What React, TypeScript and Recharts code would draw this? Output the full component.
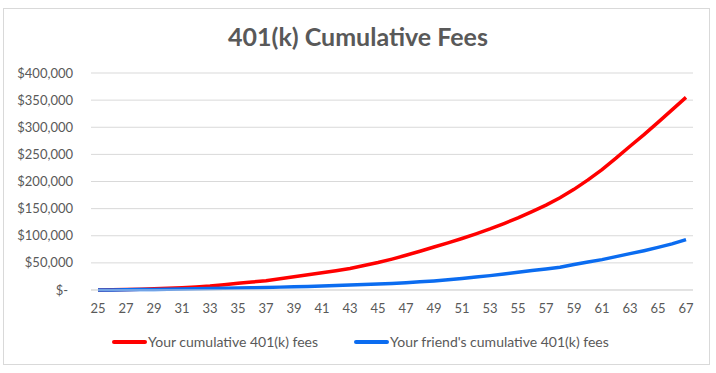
import { LineChart, Line, XAxis, YAxis, CartesianGrid } from "recharts";

const ages = [
  25, 26, 27, 28, 29, 30, 31, 32, 33, 34, 35, 36, 37, 38, 39, 40, 41, 42, 43, 44, 45, 46,
  47, 48, 49, 50, 51, 52, 53, 54, 55, 56, 57, 58, 59, 60, 61, 62, 63, 64, 65, 66, 67,
];

const yourFees = [
  0, 500, 1000, 1600, 2300, 3200, 4200, 5700, 7400, 9700, 12300, 14700, 17200, 20800,
  24600, 28000, 31800, 35600, 39800, 45000, 50600, 57000, 64000, 71500, 79300, 87000,
  95000, 103500, 112500, 122500, 133000, 144500, 156500, 170000, 185500, 203000, 222000,
  243000, 265000, 286500, 309000, 332000, 355000,
];

const friendFees = [
  0, 200, 400, 700, 1000, 1400, 1800, 2200, 2700, 3200, 3700, 4200, 4700, 5300, 5900,
  6600, 7300, 8100, 9000, 10000, 11000, 12200, 13500, 15000, 16700, 18800, 21300, 23800,
  26500, 29500, 32700, 35800, 38900, 42000, 47000, 51500, 56000, 61500, 67000, 72500,
  78500, 85000, 93000,
];

const yTicks = [0, 50000, 100000, 150000, 200000, 250000, 300000, 350000, 400000];

const data = ages.map((age, i) => ({
  age,
  yours: yourFees[i],
  friend: friendFees[i],
}));

const FONT = "Lato, 'Noto Sans', sans-serif";
const TEXT = "#595959";
const RED = "#ff0000";
const BLUE = "#0b6cf0";

const YTick = (props: any) => {
  const { x, y, payload } = props;
  const v = payload.value;
  const label = v === 0 ? "$-" : "$" + v.toLocaleString("en-US");
  return (
    <text
      x={v === 0 ? x - 5 : x}
      y={y}
      dy="0.35em"
      textAnchor="end"
      fill={TEXT}
      fontSize={13}
      fontFamily={FONT}
    >
      {label}
    </text>
  );
};

const LegendItem = ({ color, label }: { color: string; label: string }) => (
  <div style={{ display: "flex", alignItems: "center" }}>
    <div style={{ width: 35, height: 4, background: color, borderRadius: 2 }} />
    <span style={{ marginLeft: 1 }}>{label}</span>
  </div>
);

export default function App() {
  return (
    <div
      style={{
        position: "absolute",
        left: 0,
        top: 0,
        width: 716,
        height: 373,
        background: "#fff",
        fontFamily: FONT,
      }}
    >
      <div
        style={{
          position: "absolute",
          left: 3,
          top: 8,
          width: 707,
          height: 357,
          border: "1px solid #d9d9d9",
          boxSizing: "border-box",
        }}
      />
      <div
        style={{
          position: "absolute",
          left: 0,
          top: 21,
          width: 716,
          textAlign: "center",
          fontSize: 25,
          fontWeight: 700,
          color: TEXT,
        }}
      >
        401(k) Cumulative Fees
      </div>
      <div style={{ position: "absolute", left: 0, top: 0 }}>
        <LineChart
          width={716}
          height={373}
          data={data}
          margin={{ top: 73, right: 23, left: 0, bottom: 53 }}
        >
          <CartesianGrid vertical={false} stroke="#d9d9d9" strokeWidth={1} />
          <XAxis
            dataKey="age"
            interval={1}
            padding={{ left: 7, right: 7 }}
            tickLine={false}
            axisLine={{ stroke: "#d9d9d9" }}
            tickSize={0}
            tickMargin={14}
            height={30}
            tick={{ fill: TEXT, fontSize: 13, fontFamily: FONT }}
          />
          <YAxis
            domain={[0, 400000]}
            ticks={yTicks}
            width={91}
            axisLine={false}
            tickLine={false}
            tickSize={0}
            tickMargin={18}
            tick={<YTick />}
          />
          <Line
            type="linear"
            dataKey="yours"
            stroke={RED}
            strokeWidth={3.5}
            dot={false}
            isAnimationActive={false}
          />
          <Line
            type="linear"
            dataKey="friend"
            stroke={BLUE}
            strokeWidth={3.5}
            dot={false}
            isAnimationActive={false}
          />
        </LineChart>
      </div>
      <div
        style={{
          position: "absolute",
          left: 112,
          top: 333,
          fontSize: 14,
          color: TEXT,
        }}
      >
        <div style={{ position: "absolute", left: 0, whiteSpace: "nowrap" }}>
          <LegendItem color={RED} label="Your cumulative 401(k) fees" />
        </div>
        <div style={{ position: "absolute", left: 242, whiteSpace: "nowrap" }}>
          <LegendItem color={BLUE} label="Your friend's cumulative 401(k) fees" />
        </div>
      </div>
    </div>
  );
}
